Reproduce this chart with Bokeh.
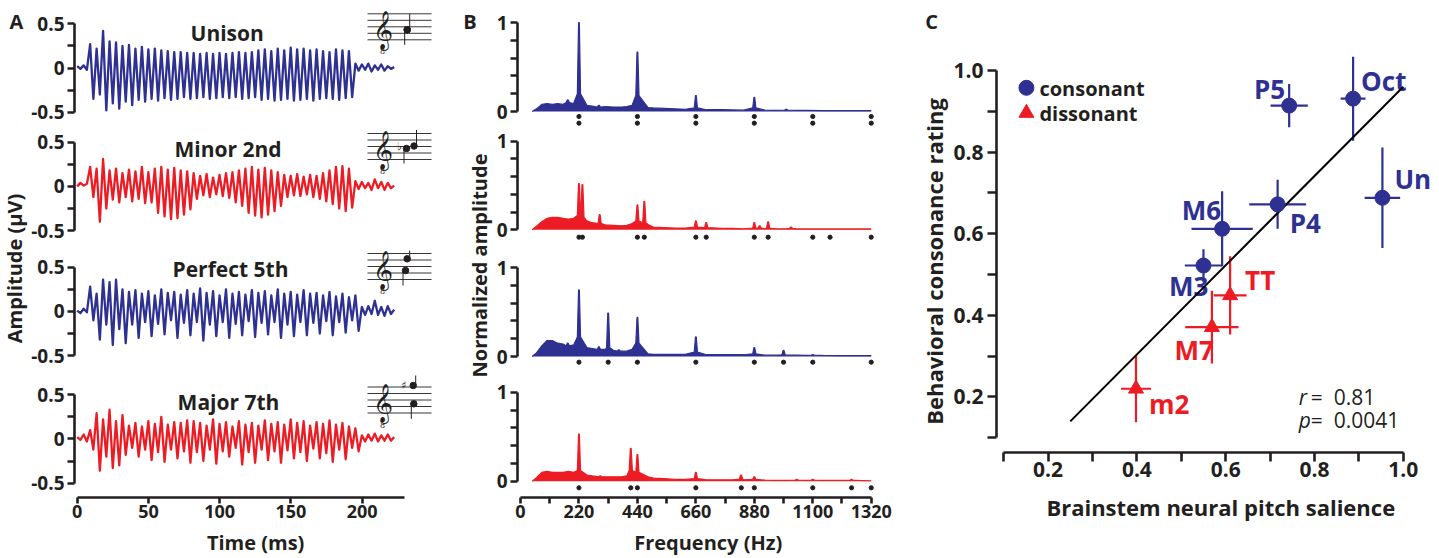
import numpy as np
from math import pi
from bokeh.plotting import figure
from bokeh.layouts import row, column
from bokeh.models import Range1d, FixedTicker
from bokeh.embed import file_html
from bokeh.resources import INLINE
from bokeh.core.properties import value

BLUE = "#2e3192"
RED = "#ed1c24"
INK = "#231f20"
FONT = "Open Sans"

# ====================== DATA ======================
# ---- Panel A: brainstem responses (successive extrema, uV) ----
WAVE_STEP_MS = 2.27
UNISON_WAVE = [0.02, -0.01, 0.03, -0.02,
    0.27, -0.35, 0.22, -0.30, 0.42, -0.48, 0.30, -0.40, 0.29, -0.46, 0.25, -0.38,
    0.26, -0.42, 0.22, -0.36, 0.24, -0.38, 0.21, -0.35, 0.22, -0.37, 0.20, -0.34,
    0.19, -0.36, 0.18, -0.35, 0.18, -0.33, 0.17, -0.35, 0.17, -0.34, 0.16, -0.33,
    0.17, -0.35, 0.16, -0.34, 0.17, -0.33, 0.16, -0.34, 0.17, -0.33, 0.18, -0.35,
    0.17, -0.34, 0.18, -0.33, 0.20, -0.36, 0.21, -0.35, 0.19, -0.37, 0.22, -0.36,
    0.20, -0.35, 0.23, -0.37, 0.21, -0.36, 0.22, -0.35, 0.20, -0.37, 0.21, -0.35,
    0.19, -0.34, 0.18, -0.35, 0.21, -0.36, 0.20, -0.34, 0.19, -0.33,
    0.05, -0.03, 0.04, -0.02, 0.05, -0.04, 0.03, -0.02, 0.04, -0.03, 0.02, -0.01, 0.01]
MINOR2_WAVE = [0.00, 0.04, 0.01, 0.03,
    0.22, -0.12, 0.20, -0.40, 0.31, -0.25, 0.18, -0.15,
    0.20, -0.18, 0.15, -0.12, 0.19, -0.17, 0.17, -0.14, 0.22, -0.19, 0.16, -0.18,
    0.20, -0.30, 0.22, -0.34, 0.19, -0.37, 0.21, -0.36, 0.18, -0.32, 0.17, -0.26,
    0.15, -0.14, 0.12, -0.10, 0.14, -0.12, 0.10, -0.09, 0.13, -0.11, 0.15, -0.13, 0.16, -0.18, 0.18, -0.22,
    0.20, -0.30, 0.22, -0.33, 0.19, -0.35, 0.21, -0.32, 0.18, -0.28, 0.16, -0.22,
    0.13, -0.12, 0.12, -0.10, 0.14, -0.11, 0.11, -0.09, 0.13, -0.12, 0.12, -0.14, 0.15, -0.17, 0.18, -0.20,
    0.22, -0.25, 0.23, -0.28, 0.20, -0.24,
    0.06, -0.03, 0.05, -0.02, 0.04, -0.04, 0.08, -0.02, 0.05, -0.04, 0.04, -0.02, 0.01]
PERFECT5_WAVE = [0.01, -0.02, 0.03, -0.01,
    0.28, -0.10, 0.20, -0.32, 0.36, -0.15, 0.33, -0.38, 0.36, -0.20, 0.25, -0.36,
    0.22, -0.15, 0.24, -0.30, 0.20, -0.12, 0.23, -0.28, 0.18, -0.14, 0.25, -0.26,
    0.21, -0.10, 0.22, -0.30, 0.19, -0.13, 0.24, -0.27, 0.20, -0.12, 0.26, -0.33,
    0.21, -0.15, 0.23, -0.28, 0.18, -0.12, 0.25, -0.30, 0.20, -0.14, 0.22, -0.27,
    0.19, -0.11, 0.24, -0.29, 0.21, -0.13, 0.23, -0.26, 0.18, -0.12, 0.25, -0.30,
    0.20, -0.15, 0.22, -0.28, 0.19, -0.12, 0.24, -0.27, 0.20, -0.13, 0.21, -0.25,
    0.18, -0.11, 0.22, -0.27, 0.17, -0.12, 0.20, -0.24, 0.16, -0.10, 0.18, -0.22,
    0.05, -0.04, 0.06, -0.03, 0.12, -0.04, 0.05, -0.05, 0.06, -0.03, 0.02]
MAJOR7_WAVE = [0.02, -0.01, 0.05, -0.03,
    0.10, -0.12, 0.29, -0.36, 0.22, -0.20, 0.33, -0.33, 0.20, -0.30, 0.27, -0.18,
    0.15, -0.10, 0.18, -0.20, 0.14, -0.12, 0.20, -0.24, 0.17, -0.15, 0.25, -0.26,
    0.16, -0.12, 0.19, -0.22, 0.18, -0.14, 0.21, -0.27, 0.20, -0.15, 0.18, -0.25,
    0.15, -0.12, 0.22, -0.28, 0.17, -0.14, 0.19, -0.20, 0.14, -0.10, 0.20, -0.29,
    0.16, -0.15, 0.18, -0.27, 0.15, -0.12, 0.21, -0.24, 0.17, -0.14, 0.19, -0.27,
    0.16, -0.13, 0.22, -0.22, 0.18, -0.15, 0.20, -0.25, 0.15, -0.11, 0.19, -0.22,
    0.17, -0.16, 0.21, -0.26, 0.16, -0.12, 0.18, -0.23, 0.14, -0.10, 0.12, -0.14,
    0.04, -0.03, 0.05, -0.02, 0.06, -0.03, 0.04, -0.02, 0.05, -0.02, 0.02]
A_TITLES = ["Unison", "Minor 2nd", "Perfect 5th", "Major 7th"]
A_XTICKS = [0, 50, 100, 150, 200]
A_YTICKS = [-0.5, 0, 0.5]
A_YMINOR = [-0.25, 0.25]

# ---- Panel B: spectra (normalized amplitude) ----
SPEC_BASE_HZ = [44, 60, 80, 100, 120, 140, 160, 180, 200, 250, 270, 300, 320, 350, 380, 400, 420,
                480, 500, 540, 580, 620, 700, 760, 800, 840, 920, 960, 1000, 1040, 1080, 1140,
                1200, 1260, 1320]
UNISON_BASE = [0.0, 0.03, 0.08, 0.09, 0.08, 0.09, 0.08, 0.10, 0.09, 0.07, 0.06, 0.05, 0.055, 0.05,
               0.05, 0.055, 0.07, 0.045, 0.04, 0.035, 0.03, 0.025, 0.02, 0.02, 0.018, 0.015, 0.015,
               0.012, 0.015, 0.012, 0.012, 0.01, 0.01, 0.01, 0.01]
MINOR2_BASE = [0.0, 0.04, 0.09, 0.13, 0.14, 0.14, 0.13, 0.12, 0.13, 0.10, 0.08, 0.06, 0.055, 0.05,
               0.045, 0.05, 0.07, 0.06, 0.03, 0.025, 0.02, 0.02, 0.015, 0.015, 0.015, 0.012, 0.012,
               0.012, 0.012, 0.01, 0.01, 0.01, 0.01, 0.01, 0.01]
PERFECT5_BASE = [0.0, 0.04, 0.12, 0.18, 0.18, 0.15, 0.14, 0.13, 0.13, 0.10, 0.09, 0.08, 0.08, 0.07,
                 0.06, 0.06, 0.08, 0.03, 0.025, 0.025, 0.025, 0.025, 0.02, 0.02, 0.02, 0.02, 0.015,
                 0.015, 0.015, 0.015, 0.012, 0.012, 0.01, 0.01, 0.01]
MAJOR7_BASE = [0.0, 0.04, 0.10, 0.11, 0.10, 0.10, 0.10, 0.11, 0.10, 0.07, 0.06, 0.07, 0.05, 0.05,
               0.05, 0.06, 0.08, 0.05, 0.035, 0.03, 0.02, 0.02, 0.015, 0.015, 0.015, 0.015, 0.012,
               0.01, 0.01, 0.012, 0.01, 0.01, 0.01, 0.01, 0.005]
# peaks: (frequency Hz, peak height, height of peak skirt)
UNISON_PEAKS = [(178, 0.13, 0.10), (220, 1.00, 0.20), (295, 0.07, 0.05), (440, 0.67, 0.18),
                (660, 0.18, 0.04), (880, 0.16, 0.04), (1000, 0.025, 0.015)]
MINOR2_PEAKS = [(220, 0.52, 0.16), (233, 0.51, 0.14), (298, 0.17, 0.07), (440, 0.28, 0.10),
                (466, 0.32, 0.08), (660, 0.10, 0.03), (699, 0.08, 0.025), (880, 0.08, 0.02),
                (900, 0.045, 0.02), (932, 0.09, 0.02), (1018, 0.03, 0.015)]
PERFECT5_PEAKS = [(178, 0.15, 0.12), (220, 0.75, 0.22), (295, 0.11, 0.08), (330, 0.49, 0.10),
                  (370, 0.075, 0.06), (440, 0.44, 0.15), (660, 0.22, 0.05), (880, 0.10, 0.03),
                  (990, 0.07, 0.02), (1100, 0.02, 0.015)]
MAJOR7_PEAKS = [(220, 0.53, 0.12), (300, 0.06, 0.05), (415, 0.37, 0.12), (440, 0.30, 0.10),
                (660, 0.10, 0.03), (830, 0.07, 0.025), (880, 0.05, 0.02), (1040, 0.02, 0.012),
                (1100, 0.02, 0.012), (1246, 0.02, 0.01)]
# harmonics of the two notes (dots under each spectrum)
UNISON_DOTS = [220, 440, 660, 880, 1100, 1320]
MINOR2_DOTS = [220, 233, 440, 466, 660, 699, 880, 932, 1100, 1165, 1320]
PERFECT5_DOTS = [220, 330, 440, 660, 880, 990, 1100, 1320]
MAJOR7_DOTS = [220, 415, 440, 660, 831, 880, 1100, 1246, 1320]
B_XTICKS = [0, 220, 440, 660, 880, 1100, 1320]
B_XMINOR = [110, 330, 550, 770, 990, 1210]

# ---- Panel C: salience vs consonance ----
CONS_NAMES = ["Un", "Oct", "P5", "P4", "M6", "M3"]
CONS_X = [0.953, 0.887, 0.743, 0.717, 0.592, 0.550]
CONS_Y = [0.688, 0.931, 0.914, 0.672, 0.612, 0.522]
CONS_XERR = [0.040, 0.028, 0.042, 0.064, 0.069, 0.042]
CONS_YERR = [0.123, 0.103, 0.053, 0.060, 0.092, 0.040]
DISS_NAMES = ["TT", "M7", "m2"]
DISS_X = [0.610, 0.569, 0.398]
DISS_Y = [0.449, 0.371, 0.220]
DISS_XERR = [0.037, 0.060, 0.034]
DISS_YERR = [0.096, 0.089, 0.082]
FIT_X = [0.25, 1.0]
FIT_Y = [0.14, 0.96]
R_TEXT = "0.81"
P_TEXT = "0.0041"
C_TICKS = [0.2, 0.4, 0.6, 0.8, 1.0]
C_MINOR = [0.1, 0.3, 0.5, 0.7, 0.9]
C_TICK_TEXT = {0.2: "0.2", 0.4: "0.4", 0.6: "0.6", 0.8: "0.8", 1.0: "1.0"}

# ====================== LAYOUT HELPERS ======================
def geom(left, right, top, bottom, fl, fr, ft, fb, x0, sx, z, sy):
    return dict(left=left, right=right, top=top, bottom=bottom, fl=fl, fr=fr, ft=ft, fb=fb,
                x0=x0, sx=sx, z=z, sy=sy)

def X(g, px):
    return (px - g["x0"]) / g["sx"]

def Y(g, py):
    return (g["z"] - py) / g["sy"]

def make_fig(g, xaxis=False, yaxis=True):
    p = figure(width=g["right"] - g["left"], height=g["bottom"] - g["top"],
               x_range=Range1d(X(g, g["fl"]), X(g, g["fr"])),
               y_range=Range1d(Y(g, g["fb"]), Y(g, g["ft"])),
               min_border_left=g["fl"] - g["left"], min_border_right=g["right"] - g["fr"],
               min_border_top=g["ft"] - g["top"], min_border_bottom=g["bottom"] - g["fb"],
               x_axis_location="below" if xaxis else None,
               y_axis_location="left" if yaxis else None,
               output_backend="svg", toolbar_location=None)
    p.outline_line_color = None
    p.grid.visible = False
    p.background_fill_color = "white"
    p.border_fill_color = "white"
    return p

def style_axis(ax, ticks, minor, bounds, fs, tick_len=7, overrides=None, standoff=3):
    ax.ticker = FixedTicker(ticks=ticks, minor_ticks=minor)
    ax.bounds = bounds
    ax.axis_line_width = 2.6
    ax.axis_line_color = INK
    ax.major_tick_line_width = 2.6
    ax.minor_tick_line_width = 2.6
    ax.major_tick_line_color = INK
    ax.minor_tick_line_color = INK
    ax.major_tick_in = 0
    ax.minor_tick_in = 0
    ax.major_tick_out = tick_len
    ax.minor_tick_out = tick_len
    ax.major_label_text_font = FONT
    ax.major_label_text_font_style = "bold"
    ax.major_label_text_font_size = fs
    ax.major_label_text_color = INK
    ax.major_label_standoff = standoff
    if overrides:
        ax.major_label_overrides = overrides

def strip(left, right, top, bottom):
    """A blank figure whose data coordinates are page pixels (y negated)."""
    p = figure(width=right - left, height=bottom - top, x_range=Range1d(left, right),
               y_range=Range1d(-bottom, -top), min_border=0,
               x_axis_location=None, y_axis_location=None,
               output_backend="svg", toolbar_location=None)
    p.outline_line_color = None
    p.grid.visible = False
    return p

def strip_text(p, px, py, txt, size="20px", angle=0.0, style="bold"):
    p.text(x=[px], y=[-py], text=[txt], angle=angle, text_font=value(FONT),
           text_font_style=style, text_font_size=size, text_color=INK,
           text_align="center", text_baseline="middle")

H = 556
ROWS = [(0, 126), (126, 250), (250, 375), (375, 528)]
LAST_FRAME_BOTTOM = 497

# ====================== PANEL A ======================
A_ZERO_PX = [67.5, 185.9, 310.9, 438.4]
A_WAVES = [UNISON_WAVE, MINOR2_WAVE, PERFECT5_WAVE, MAJOR7_WAVE]
A_COLORS = [BLUE, RED, BLUE, RED]
A_TITLE_PX = [(226.7, 32.0), (227.5, 148.5), (230.0, 268.5), (228.0, 401.0)]
STAFF_TOP_PX = [13.3, 133.0, 253.0, 386.5]
NOTES_PX = [[(406.7, 29.3, "up"), (406.7, 29.3, "down")],
            [(406.0, 148.0, "down"), (413.5, 145.5, "up")],
            [(406.7, 258.3, "up"), (405.0, 270.0, "down")],
            [(412.7, 385.0, "up"), (413.3, 403.3, "down")]]
ACCID_PX = [None, ("\u266d", 399.0, 146.0), None, ("\u266f", 403.3, 385.0)]

a_figs = []
for k in range(4):
    top, bottom = ROWS[k]
    fb = LAST_FRAME_BOTTOM if k == 3 else bottom
    g = geom(28, 455, top, bottom, 74, 455, top, fb, 76.7, 1.425, A_ZERO_PX[k], 88.4)
    p = make_fig(g, xaxis=(k == 3))
    style_axis(p.yaxis[0], A_YTICKS, A_YMINOR, (-0.5, 0.5), "19px",
               overrides={-0.5: "-0.5", 0: "0", 0.5: "0.5"})
    wave = A_WAVES[k]
    t = np.arange(len(wave)) * WAVE_STEP_MS
    p.line(t, wave, line_color=A_COLORS[k], line_width=2.3, line_join="round")
    tx, ty = A_TITLE_PX[k]
    p.text(x=[X(g, tx)], y=[Y(g, ty)], text=[A_TITLES[k]], text_font=value(FONT),
           text_font_style="bold", text_font_size="21px", text_color=INK,
           text_align="center", text_baseline="middle")
    # music notation inset
    st = STAFF_TOP_PX[k]
    sx0, sx1 = X(g, 367), X(g, 431)
    p.multi_line([[sx0, sx1]] * 5, [[Y(g, st + 6.5 * i)] * 2 for i in range(5)],
                 line_color=INK, line_width=0.9)
    p.text(x=[X(g, 382)], y=[Y(g, st + 15)], text=["\U0001D11E"], text_font=value("DejaVu Sans"),
           text_font_size="34px", text_color=INK, text_align="center", text_baseline="middle")
    p.text(x=[X(g, 382)], y=[Y(g, st + 38)], text=["8"], text_font=value("DejaVu Serif"),
           text_font_size="8px", text_color=INK, text_align="center", text_baseline="middle")
    for (nx, ny, stem) in NOTES_PX[k]:
        p.scatter([X(g, nx)], [Y(g, ny)], size=6.5, color=INK)
        if stem == "up":
            p.segment(X(g, nx + 2.5), Y(g, ny), X(g, nx + 2.5), Y(g, ny - 16), line_color=INK, line_width=1)
        else:
            p.segment(X(g, nx - 2.5), Y(g, ny), X(g, nx - 2.5), Y(g, ny + 15), line_color=INK, line_width=1)
    if ACCID_PX[k]:
        sym, ax_, ay_ = ACCID_PX[k]
        p.text(x=[X(g, ax_)], y=[Y(g, ay_)], text=[sym], text_font=value("DejaVu Sans"),
               text_font_size="11px", text_color=INK, text_align="center", text_baseline="middle")
    if k == 3:
        style_axis(p.xaxis[0], A_XTICKS, [], (0, 230), "18px", tick_len=6, standoff=1)
    a_figs.append(p)
sa = strip(28, 455, 528, H)
strip_text(sa, 231, 542, "Time (ms)")

# ====================== PANEL B ======================
B_ZERO_PX = [111.0, 229.3, 356.0, 480.7]
B_BASES = [UNISON_BASE, MINOR2_BASE, PERFECT5_BASE, MAJOR7_BASE]
B_PEAKS = [UNISON_PEAKS, MINOR2_PEAKS, PERFECT5_PEAKS, MAJOR7_PEAKS]
B_DOTS = [UNISON_DOTS, MINOR2_DOTS, PERFECT5_DOTS, MAJOR7_DOTS]
B_COLORS = [BLUE, RED, BLUE, RED]
B_DOT_ROWS_PX = [[5.0, 11.7], [7.4], [5.7], [6.6]]

def spectrum_outline(base, peaks):
    pts = [(f, a) for f, a in zip(SPEC_BASE_HZ, base)
           if all(abs(f - pf) > 8 for pf, _, _ in peaks)]
    for pf, ph, ps in peaks:
        pts += [(pf - 6, ps), (pf - 1.5, ph), (pf + 1.5, ph), (pf + 6, ps)]
    pts.sort()
    return [q[0] for q in pts], [q[1] for q in pts]

b_figs = []
for k in range(4):
    top, bottom = ROWS[k]
    fb = LAST_FRAME_BOTTOM if k == 3 else bottom
    g = geom(493, 900, top, bottom, 517, 900, top, fb, 520.0, 0.2657, B_ZERO_PX[k], 88.8)
    p = make_fig(g, xaxis=(k == 3))
    style_axis(p.yaxis[0], [0, 1], [0.2, 0.4, 0.6, 0.8], (0, 1), "19px", standoff=3)
    fx, fy = spectrum_outline(B_BASES[k], B_PEAKS[k])
    p.varea(x=fx, y1=0, y2=fy, fill_color=B_COLORS[k])
    p.line(fx, fy, line_color=B_COLORS[k], line_width=1.2)
    for off in B_DOT_ROWS_PX[k]:
        dy = Y(g, B_ZERO_PX[k] + off)
        p.scatter(B_DOTS[k], [dy] * len(B_DOTS[k]), size=4.2, color=INK)
    if k == 3:
        style_axis(p.xaxis[0], B_XTICKS, B_XMINOR, (0, 1320), "18px", tick_len=6, standoff=1)
    b_figs.append(p)
sb = strip(493, 900, 528, H)
strip_text(sb, 695.7, 542, "Frequency (Hz)")

# ====================== LABEL STRIPS ======================
la = strip(0, 28, 0, H)
strip_text(la, 14, 268, "Amplitude (\u03bcV)", angle=pi / 2)
strip_text(la, 16, 21, "A")
lb = strip(455, 493, 0, H)
strip_text(lb, 479, 265, "Normalized amplitude", angle=pi / 2)
strip_text(lb, 469.5, 21, "B")
lc = strip(900, 950, 0, H)
strip_text(lc, 931, 21, "C")
strip_text(lc, 933, 261, "Behavioral consonance rating", size="22px", angle=pi / 2)

# ====================== PANEL C ======================
gc = geom(950, 1436, 0, 490, 995, 1436, 0, 452, 957.7, 445.0, 478.0, 408.0)
pc = make_fig(gc, xaxis=True)
style_axis(pc.xaxis[0], C_TICKS, C_MINOR, (0.1, 1.0), "21px", tick_len=9, standoff=0,
           overrides=C_TICK_TEXT)
style_axis(pc.yaxis[0], C_TICKS, C_MINOR, (0.1, 1.0), "21px", tick_len=9, standoff=4,
           overrides=C_TICK_TEXT)

def errbars(xs, ys, xe, ye, color):
    pc.segment([x - e for x, e in zip(xs, xe)], ys, [x + e for x, e in zip(xs, xe)], ys,
               line_color=color, line_width=2.2)
    pc.segment(xs, [y - e for y, e in zip(ys, ye)], xs, [y + e for y, e in zip(ys, ye)],
               line_color=color, line_width=2.2)

errbars(CONS_X, CONS_Y, CONS_XERR, CONS_YERR, BLUE)
errbars(DISS_X, DISS_Y, DISS_XERR, DISS_YERR, RED)

# (alignment, x offset px, y offset px downward to the middle of the label)
LABEL_STYLE = {"Un": ("left", 12, -19), "Oct": ("left", 8, -18), "P5": ("right", -4, -17),
               "P4": ("left", 12, 19), "M6": ("right", -1, -19), "M3": ("right", 5, 20),
               "TT": ("left", 15, -15), "M7": ("right", 2, 23), "m2": ("left", 13, 15)}
for names, xs, ys, color in [(CONS_NAMES, CONS_X, CONS_Y, BLUE), (DISS_NAMES, DISS_X, DISS_Y, RED)]:
    for n, x, y in zip(names, xs, ys):
        al, xo, yo = LABEL_STYLE[n]
        pc.text(x=[x], y=[y], text=[n], x_offset=xo, y_offset=yo, text_font=value(FONT),
                text_font_style="bold", text_font_size="26px", text_color=color,
                text_align=al, text_baseline="middle")

pc.line(FIT_X, FIT_Y, line_color="black", line_width=2)
pc.scatter(CONS_X, CONS_Y, size=15, color=BLUE, marker="circle")
pc.scatter(DISS_X, DISS_Y, size=15, color=RED, marker="triangle")

# legend (drawn as marks + text so that its glyphs match the plotted markers)
pc.scatter([X(gc, 1025)], [Y(gc, 87.3)], size=15, color=BLUE, marker="circle")
pc.scatter([X(gc, 1025)], [Y(gc, 112.5)], size=15, color=RED, marker="triangle")
pc.text(x=[X(gc, 1038)] * 2, y=[Y(gc, 88), Y(gc, 113)], text=["consonant", "dissonant"],
        text_font=value(FONT), text_font_style="bold", text_font_size="20px", text_color=INK,
        text_baseline="middle")

for txt, px, py, style in [("r", 1298, 396, "italic"), ("=", 1310, 396, "normal"),
                           (R_TEXT, 1333, 396, "normal"), ("p", 1298, 419.5, "italic"),
                           ("=", 1310, 419.5, "normal"), (P_TEXT, 1333, 419.5, "normal")]:
    pc.text(x=[X(gc, px)], y=[Y(gc, py)], text=[txt], text_font=value(FONT),
            text_font_style=style, text_font_size="21px", text_color=INK, text_baseline="middle")

sc = strip(950, 1436, 490, H)
strip_text(sc, 1197.7, 506, "Brainstem neural pitch salience", size="22px")

layout = row(la, column(*a_figs, sa), lb, column(*b_figs, sb), lc, column(pc, sc))
open("out.html", "w").write(file_html(layout, INLINE))
